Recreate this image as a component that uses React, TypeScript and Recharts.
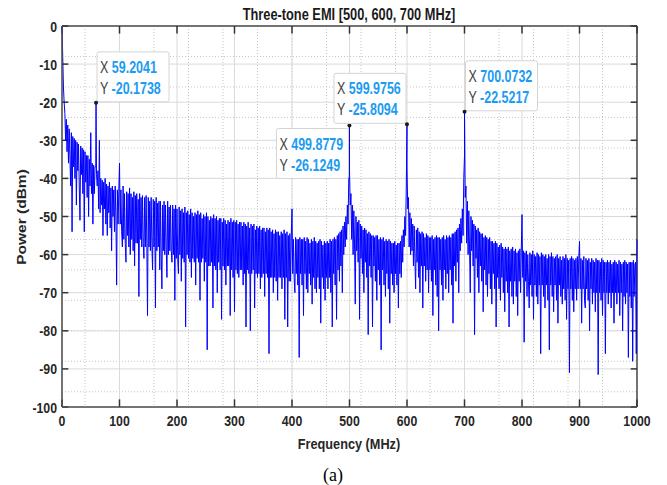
import React from 'react';
import { LineChart, Line, XAxis, YAxis, CartesianGrid, ReferenceLine, ReferenceDot } from 'recharts';

// spectrum: one value (dBm) every 1.25 MHz, one row = 10 MHz
const binStep = 1.25;
const band000 = [
  0, -8, -16, -20, -23, -30, -24.5, -33,
  -26, -36, -27, -34, -42, -28, -54, -29,
  -37, -29.5, -40, -30, -47, -30.5, -38, -31,
  -42, -51, -31.5, -39, -32, -44, -32.5, -54,
  -33, -41, -34, -45, -34, -50, -35, -42,
  -28, -44, -36, -52, -36.5, -44, -37, -37,
  -39, -42, -38, -48, -30, -49, -40, -47,
  -40.5, -55, -41, -48, -40, -52, -41.5, -55,
  -42, -49, -41, -53, -42.5, -59, -42, -50,
  -43, -54, -42, -50, -68, -43, -52, -43.5,
];
const band100 = [
  -36, -52, -43, -54, -58, -42, -56, -44,
  -57, -62, -43.5, -55, -44, -58, -42.5, -60,
  -44, -56, -45, -59, -43.5, -63, -44.5, -57,
  -44, -57, -45.5, -71, -44, -56, -45, -58,
  -44.5, -57, -61, -45, -58, -44.5, -57, -76,
  -45, -58, -46, -59, -45, -57, -64, -45.5,
  -58, -46, -74, -45, -59, -46.5, -58, -46,
  -64, -46, -60, -69, -47, -59, -46, -60,
  -47, -58, -66, -46, -60, -47.5, -59, -47,
  -59, -62, -47, -60, -48, -72, -47, -61,
];
const band200 = [
  -48, -61, -65, -47.5, -60, -48.5, -67, -48,
  -61, -49, -62, -47.5, -79, -49, -60, -48.5,
  -61, -49.5, -62, -48, -66, -49, -61, -50,
  -62, -49, -68, -49.5, -61, -48.5, -62, -49.5,
  -72, -49, -62, -50.5, -61, -49.5, -67, -50,
  -62, -49, -85, -50, -63, -51, -63, -50,
  -62, -50.5, -74, -49.5, -63, -50.5, -64, -50,
  -70, -51, -62, -50.5, -64, -50.5, -77, -51.5,
  -63, -50.5, -64, -51, -68, -52, -63, -51,
  -63, -51.5, -76, -50.5, -64, -51.5, -66, -51,
];
const band300 = [
  -75, -51.5, -64, -51, -65, -52, -66, -51.5,
  -64, -51.5, -64, -52.5, -68, -51.5, -65, -52,
  -79, -52.5, -64, -51.5, -65, -53, -80, -52,
  -65, -52.5, -64, -52, -74, -53.5, -65, -52.5,
  -66, -53, -65, -52.5, -69, -53.5, -66, -53,
  -65, -53, -71, -54, -65, -53, -66, -53.5,
  -86, -53, -66, -54, -66, -53.5, -70, -54.5,
  -66, -53.5, -67, -54, -72, -54, -66, -55,
  -66, -54, -69, -54.5, -66, -53.5, -77, -54.5,
  -66, -54, -79, -55, -67, -54.5, -67, -55,
];
const band400 = [
  -48, -65, -56, -66, -70, -55.5, -65, -56,
  -68, -56, -87, -55.5, -65, -56, -68, -56,
  -76, -55.5, -65, -56.5, -69, -55.5, -70, -56,
  -65, -57, -68, -56, -73, -56.5, -66, -55.5,
  -69, -56.5, -70, -57, -66, -56.5, -69, -56,
  -78, -56.5, -66, -57.5, -69, -56.5, -72, -57,
  -66, -56.5, -69, -57, -66, -56, -70, -56.5,
  -79, -56, -65, -55.5, -68, -56, -77, -55,
  -64, -54.5, -67, -54, -63, -53.5, -70, -52.5,
  -60, -51.5, -58, -50, -56, -47, -52, -40,
];
const band500 = [
  -38, -47, -44, -56, -47, -60, -48.5, -57,
  -73, -50, -59, -51.5, -62, -51, -77, -52,
  -61, -52.5, -65, -53.5, -70, -53, -62, -53.5,
  -66, -54.5, -81, -54, -63, -54.5, -66, -55,
  -79, -55, -63, -55.5, -67, -55, -72, -55,
  -64, -56, -68, -55.5, -85, -56, -64, -55.5,
  -68, -56.5, -71, -56, -65, -56.5, -69, -56,
  -78, -56.5, -65, -57, -68, -57, -70, -56.5,
  -65, -57.5, -68, -57, -74, -57, -65, -56.5,
  -66, -55, -62, -53.5, -58, -50, -55, -42,
];
const band600 = [
  -37, -48, -45, -58, -49, -60, -50.5, -59,
  -52, -63, -52.5, -61, -69, -53.5, -62, -53,
  -66, -54, -70, -54.5, -63, -54, -74, -54.5,
  -63, -55.5, -67, -54.5, -64, -55, -70, -55.5,
  -64, -55.5, -67, -55, -76, -56, -64, -55.5,
  -68, -55, -71, -55.5, -80, -55.5, -64, -56,
  -68, -55.5, -72, -55, -64, -56, -69, -55,
  -65, -55.5, -70, -55, -64, -55.5, -68, -54.5,
  -78, -54.5, -63, -54, -67, -53.5, -62, -53,
  -70, -52, -59, -50.5, -57, -48, -55, -40,
];
const band700 = [
  -34, -45, -42, -57, -46, -60, -48.5, -58,
  -70, -50, -59, -51, -63, -52, -81, -52.5,
  -61, -53.5, -66, -53, -70, -54, -63, -54.5,
  -67, -54.5, -75, -55.5, -64, -55, -68, -55.5,
  -71, -56, -65, -55.5, -69, -56.5, -73, -56.5,
  -65, -57, -69, -56.5, -79, -57, -66, -58,
  -69, -57.5, -72, -57, -66, -58, -70, -58.5,
  -75, -58, -67, -58.5, -70, -58, -79, -59,
  -67, -58.5, -71, -58, -73, -59, -67, -58.5,
  -71, -59.5, -76, -59, -67, -58.5, -70, -59,
];
const band800 = [
  -49.5, -66, -59, -83, -59.5, -67, -59, -71,
  -60, -67, -74, -59.5, -68, -60, -71, -59,
  -77, -60, -68, -60.5, -71, -59.5, -73, -60,
  -68, -60.5, -86, -59.5, -68, -60, -71, -60.5,
  -74, -60, -68, -61, -72, -60, -85, -60.5,
  -68, -59.5, -71, -60.5, -75, -61, -68, -60.5,
  -72, -60, -78, -61, -68, -60.5, -71, -61.5,
  -73, -60.5, -69, -61, -72, -60, -77, -61,
  -69, -61.5, -91, -61, -69, -60.5, -72, -61,
  -75, -61.5, -69, -61, -72, -60.5, -69, -61,
];
const band900 = [
  -56.5, -69, -61, -78, -61.5, -69, -60.5, -72,
  -74, -61, -69, -61.5, -72, -61, -80, -62,
  -69, -61, -73, -61.5, -70, -62, -75, -61,
  -70, -61.5, -91.5, -61.5, -70, -62, -72, -61,
  -76, -61.5, -70, -62, -86, -62, -70, -61.5,
  -73, -62, -70, -61.5, -74, -62.5, -70, -62,
  -78, -61.5, -70, -62, -73, -62.5, -70, -61.5,
  -76, -62, -70, -62.5, -80, -62, -71, -61.5,
  -73, -62, -70, -62.5, -87, -62, -71, -62,
  -74, -62, -88, -61.5, -71, -62.5, -62, -86,
  -56,
];
const bands = [band000, band100, band200, band300, band400, band500, band600, band700, band800, band900];

// data tips (also the peak samples of the trace)
const tipFreq = [59.2041, 499.8779, 599.9756, 700.0732];
const tipPower = [-20.1738, -26.1249, -25.8094, -22.5217];
const tipSide = ['ne', 'sw', 'nw', 'ne'];

const xTicks = [0, 100, 200, 300, 400, 500, 600, 700, 800, 900, 1000];
const yTicks = [-100, -90, -80, -70, -60, -50, -40, -30, -20, -10, 0];
const xMinor = Array.from({ length: 51 }, (_, i) => i * 20);
const yMinor = Array.from({ length: 51 }, (_, i) => -100 + i * 2);

const spectrum = bands
  .flatMap((vals, b) => vals.map((p, i) => ({ f: b * 100 + i * binStep, p })))
  .concat(tipFreq.map((f, i) => ({ f, p: tipPower[i] })))
  .sort((a, b) => a.f - b.f);

const FONT = '"Liberation Sans", Arial, Helvetica, sans-serif';
const AXIS = '#4d4d4d';

const XTick = (props: any) => {
  const { x, y, payload } = props;
  return (
    <text transform={`translate(${x},${y + 19}) scale(0.82,1)`} textAnchor="middle" fontFamily={FONT}
      fontWeight="bold" fontSize={15} fill="#262626">
      {payload.value}
    </text>
  );
};

const YTick = (props: any) => {
  const { x, y, payload } = props;
  return (
    <text transform={`translate(${x},${y + 5.5}) scale(0.82,1)`} textAnchor="end" fontFamily={FONT}
      fontWeight="bold" fontSize={15} fill="#262626">
      {payload.value}
    </text>
  );
};

const makeTip = (i: number) => (props: any) => {
  const { cx, cy } = props;
  const w = 72;
  const h = 50;
  const side = tipSide[i];
  const bx = side === 'ne' ? cx + 1 : cx - w - 1;
  const by = side === 'sw' ? cy + 3 : cy - h - 1;
  return (
    <g>
      <rect x={bx} y={by} width={w} height={h} fill="#ffffff" fillOpacity={0.95} stroke="#d4d4d4" rx={2} />
      <text transform={`translate(${bx + 3},${by + 21}) scale(0.78,1)`} fontFamily={FONT} fontSize={16}>
        <tspan fill="#404040">X </tspan>
        <tspan fill="#1b9bf2" fontWeight="bold">{tipFreq[i].toFixed(4)}</tspan>
      </text>
      <text transform={`translate(${bx + 3},${by + 42}) scale(0.78,1)`} fontFamily={FONT} fontSize={16}>
        <tspan fill="#404040">Y </tspan>
        <tspan fill="#1b9bf2" fontWeight="bold">{tipPower[i].toFixed(4)}</tspan>
      </text>
      <circle cx={cx} cy={cy} r={2} fill="#1a1a1a" />
    </g>
  );
};

export default function App() {
  return (
    <div style={{ position: 'absolute', left: 0, top: 0, width: 667, height: 485, background: '#fff' }}>
      <LineChart width={667} height={485} data={spectrum} margin={{ top: 26, right: 30, bottom: 48, left: 22 }}>
        <CartesianGrid verticalValues={xMinor} horizontalValues={yMinor} stroke="#c6c6c6" strokeDasharray="1 2" />
        <CartesianGrid verticalValues={xTicks} horizontalValues={yTicks} stroke="#dadada" />
        <XAxis type="number" dataKey="f" domain={[0, 1000]} ticks={xTicks} tickLine={false} tickSize={0}
          tickMargin={0} height={30} axisLine={{ stroke: AXIS, strokeWidth: 1.5 }} tick={<XTick />} />
        <YAxis type="number" domain={[-100, 0]} ticks={yTicks} tickLine={false} tickSize={0} tickMargin={5}
          width={40} axisLine={{ stroke: AXIS, strokeWidth: 1.5 }} tick={<YTick />} />
        <ReferenceLine y={0} stroke={AXIS} strokeWidth={1.5} />
        <ReferenceLine x={1000} stroke={AXIS} strokeWidth={1.5} />
        {xTicks.map((t) => (
          <ReferenceLine key={'xb' + t} segment={[{ x: t, y: -100 }, { x: t, y: -98 }]} stroke="#333" strokeWidth={1.5} />
        ))}
        {xTicks.map((t) => (
          <ReferenceLine key={'xt' + t} segment={[{ x: t, y: 0 }, { x: t, y: -2 }]} stroke="#333" strokeWidth={1.5} />
        ))}
        {yTicks.map((t) => (
          <ReferenceLine key={'yl' + t} segment={[{ x: 0, y: t }, { x: 11, y: t }]} stroke="#333" strokeWidth={1.5} />
        ))}
        {yTicks.map((t) => (
          <ReferenceLine key={'yr' + t} segment={[{ x: 989, y: t }, { x: 1000, y: t }]} stroke="#333" strokeWidth={1.5} />
        ))}
        <Line type="linear" dataKey="p" stroke="#0000ff" strokeWidth={1} dot={false} isAnimationActive={false} />
        {tipFreq.map((f, i) => (
          <ReferenceDot key={'tip' + i} x={f} y={tipPower[i]} r={2} shape={makeTip(i)} />
        ))}
      </LineChart>
      <div style={{ position: 'absolute', left: 349, top: 6, transform: 'translateX(-50%) scaleX(0.8)', whiteSpace: 'nowrap',
        fontFamily: FONT, fontWeight: 'bold', fontSize: 16, color: '#1a1a1a', lineHeight: '18px' }}>
        Three-tone EMI [500, 600, 700 MHz]
      </div>
      <div style={{ position: 'absolute', left: 349, top: 435, transform: 'translateX(-50%) scaleX(0.82)', whiteSpace: 'nowrap',
        fontFamily: FONT, fontWeight: 'bold', fontSize: 15.5, color: '#262626', lineHeight: '18px' }}>
        Frequency (MHz)
      </div>
      <div style={{ position: 'absolute', left: 22, top: 217, transform: 'translate(-50%,-50%) rotate(-90deg) scaleY(0.82)',
        whiteSpace: 'nowrap', fontFamily: FONT, fontWeight: 'bold', fontSize: 15.5, color: '#262626', lineHeight: '18px' }}>
        Power (dBm)
      </div>
      <div style={{ position: 'absolute', left: 333, top: 475, transform: 'translate(-50%,-50%)', whiteSpace: 'nowrap',
        fontFamily: '"Liberation Serif", "Times New Roman", serif', fontSize: 18, color: '#000', lineHeight: '20px' }}>
        (a)
      </div>
    </div>
  );
}
